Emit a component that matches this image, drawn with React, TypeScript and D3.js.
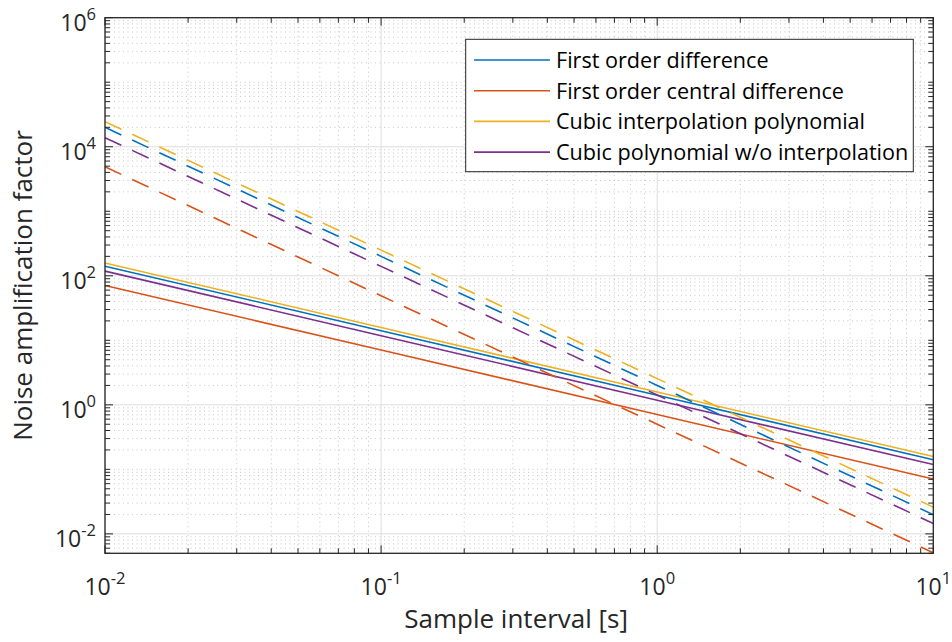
import React from "react";
import * as d3 from "d3";

// ---------- data ----------
const sampleIntervals = [0.01, 0.1, 1, 10];

const seriesNames = [
  "First order difference",
  "First order central difference",
  "Cubic interpolation polynomial",
  "Cubic polynomial w/o interpolation",
];
const seriesColors = ["#0072BD", "#D95319", "#EDB120", "#7E2F8E"];

// solid lines (first-derivative noise amplification)
const firstOrderSolid = [141, 14.1, 1.41, 0.141];
const centralSolid = [70.7, 7.07, 0.707, 0.0707];
const cubicInterpSolid = [158, 15.8, 1.58, 0.158];
const cubicNoInterpSolid = [118, 11.8, 1.18, 0.119];

// dashed lines (second-derivative noise amplification)
const firstOrderDashed = [20000, 200, 2.0, 0.0198];
const centralDashed = [4900, 49, 0.5, 0.0051];
const cubicInterpDashed = [24500, 250, 2.55, 0.026];
const cubicNoInterpDashed = [13800, 140, 1.42, 0.0145];

const xTickValues = [0.01, 0.1, 1, 10];
const xTickExponents = ["-2", "-1", "0", "1"];
const yTickValues = [0.01, 1, 100, 1e4, 1e6];
const yTickExponents = ["-2", "0", "2", "4", "6"];

const xLabel = "Sample interval [s]";
const yLabel = "Noise amplification factor";

// ---------- layout ----------
const W = 952;
const H = 642;
const L = 105;
const R = 933.3;
const T = 17.7;
const B = 553.3;
const FONT = "'Open Sans', 'Noto Sans', sans-serif";
const AX = "#262626";

export default function App() {
  const x = d3.scaleLog().domain([0.01, 10]).range([L, R]);
  const y = d3.scaleLog().domain([0.005, 1e6]).range([B, T]);

  const solid = [firstOrderSolid, centralSolid, cubicInterpSolid, cubicNoInterpSolid];
  const dashed = [firstOrderDashed, centralDashed, cubicInterpDashed, cubicNoInterpDashed];

  const line = d3
    .line<[number, number]>()
    .x((d) => x(d[0]))
    .y((d) => y(d[1]));

  const xMinor: number[] = [];
  for (let e = -2; e < 1; e++) {
    for (let m = 2; m <= 9; m++) xMinor.push(m * Math.pow(10, e));
  }
  const yMinor: number[] = [];
  for (let e = -3; e < 6; e++) {
    for (let m = 1; m <= 9; m++) {
      const v = m * Math.pow(10, e);
      if (v < 0.005 * 0.999 || v > 1e6) continue;
      if (m === 1 && e % 2 === 0) continue;
      yMinor.push(v);
    }
  }

  const majorLen = 8;
  const minorLen = 5;

  return (
    <svg
      width={W}
      height={H}
      style={{ position: "fixed", left: 0, top: 0, background: "#fff" }}
      fontFamily={FONT}
    >
      <rect x={0} y={0} width={W} height={H} fill="#fff" />
      {/* minor grid */}
      <g stroke="#c6c6c6" strokeWidth={1} strokeDasharray="1,3.5">
        {xMinor.map((v, i) => (
          <line key={"xm" + i} x1={x(v)} x2={x(v)} y1={T} y2={B} />
        ))}
        {yMinor.map((v, i) => (
          <line key={"ym" + i} x1={L} x2={R} y1={y(v)} y2={y(v)} />
        ))}
      </g>
      {/* major grid */}
      <g stroke="#dedede" strokeWidth={1}>
        {xTickValues.map((v, i) => (
          <line key={"xg" + i} x1={x(v)} x2={x(v)} y1={T} y2={B} />
        ))}
        {yTickValues.map((v, i) => (
          <line key={"yg" + i} x1={L} x2={R} y1={y(v)} y2={y(v)} />
        ))}
      </g>

      {/* data lines */}
      <g fill="none" strokeWidth={1.6}>
        {solid.map((s, i) => (
          <path
            key={"s" + i}
            d={line(sampleIntervals.map((xv, j) => [xv, s[j]] as [number, number])) || ""}
            stroke={seriesColors[i]}
          />
        ))}
        {dashed.map((s, i) => (
          <path
            key={"d" + i}
            d={line(sampleIntervals.map((xv, j) => [xv, s[j]] as [number, number])) || ""}
            stroke={seriesColors[i]}
            strokeDasharray="18,12"
          />
        ))}
      </g>

      {/* ticks */}
      <g stroke={AX} strokeWidth={1}>
        {xTickValues.map((v, i) => (
          <g key={"xt" + i}>
            <line x1={x(v)} x2={x(v)} y1={B} y2={B - majorLen} />
            <line x1={x(v)} x2={x(v)} y1={T} y2={T + majorLen} />
          </g>
        ))}
        {xMinor.map((v, i) => (
          <g key={"xmt" + i}>
            <line x1={x(v)} x2={x(v)} y1={B} y2={B - minorLen} />
            <line x1={x(v)} x2={x(v)} y1={T} y2={T + minorLen} />
          </g>
        ))}
        {yTickValues.map((v, i) => (
          <g key={"yt" + i}>
            <line x1={L} x2={L + majorLen} y1={y(v)} y2={y(v)} />
            <line x1={R} x2={R - majorLen} y1={y(v)} y2={y(v)} />
          </g>
        ))}
        {yMinor.map((v, i) => (
          <g key={"ymt" + i}>
            <line x1={L} x2={L + minorLen} y1={y(v)} y2={y(v)} />
            <line x1={R} x2={R - minorLen} y1={y(v)} y2={y(v)} />
          </g>
        ))}
      </g>

      {/* box */}
      <rect x={L} y={T} width={R - L} height={B - T} fill="none" stroke={AX} strokeWidth={1.3} />

      {/* tick labels */}
      <g fill={AX} fontSize={23}>
        {xTickValues.map((v, i) => (
          <text key={"xl" + i} x={x(v)} y={595} textAnchor="middle">
            <tspan>10</tspan>
            <tspan fontSize={16.5} dy={-11}>
              {xTickExponents[i]}
            </tspan>
          </text>
        ))}
        {yTickValues.map((v, i) => (
          <text key={"yl" + i} x={96} y={y(v) + 13} textAnchor="end">
            <tspan>10</tspan>
            <tspan fontSize={16.5} dy={-11}>
              {yTickExponents[i]}
            </tspan>
          </text>
        ))}
      </g>

      {/* axis labels */}
      <text x={(L + R) / 2 - 3} y={628} textAnchor="middle" fontSize={26} fill={AX}>
        {xLabel}
      </text>
      <text
        transform={`translate(32,${(T + B) / 2}) rotate(-90)`}
        textAnchor="middle"
        fontSize={26}
        fill={AX}
      >
        {yLabel}
      </text>

      {/* legend */}
      <g>
        <rect x={465.7} y={39.3} width={447.6} height={132.4} fill="#fff" stroke={AX} strokeWidth={1} />
        {seriesNames.map((n, i) => {
          const ly = 60 + i * 30.7;
          return (
            <g key={"lg" + i}>
              <line x1={474} x2={550} y1={ly} y2={ly} stroke={seriesColors[i]} strokeWidth={1.6} />
              <text x={556} y={ly + 7.8} fontSize={21.6} fill="#000">
                {n}
              </text>
            </g>
          );
        })}
      </g>
    </svg>
  );
}
